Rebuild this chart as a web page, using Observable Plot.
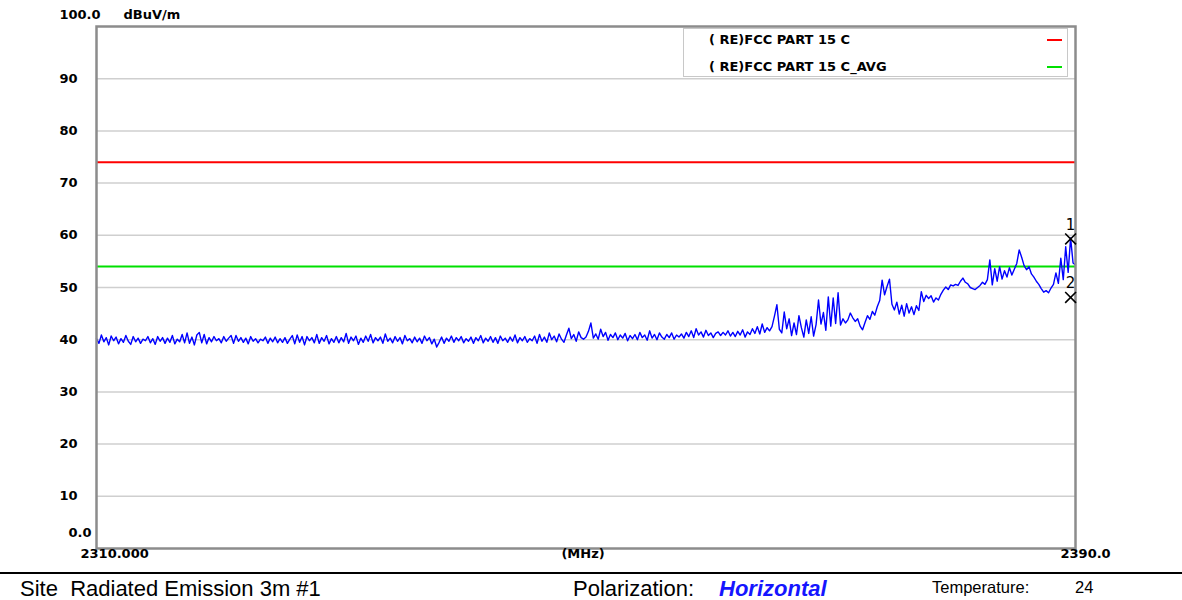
<!DOCTYPE html>
<html><head><meta charset="utf-8">
<script src="https://cdn.jsdelivr.net/npm/d3@7"></script>
<script src="https://cdn.jsdelivr.net/npm/@observablehq/plot@0.6"></script>
<style>
body{margin:0;background:#fff;}
#wrap{position:relative;width:1182px;height:600px;overflow:hidden;background:#fff;}
#chart{position:absolute;left:0;top:0;}
.legend{position:absolute;left:683px;top:28px;width:385px;height:49px;border:1px solid #c8c8c8;box-sizing:border-box;background:#fff;font:bold 13px "DejaVu Sans";color:#000;}
.legend .row{position:absolute;left:25px;height:16px;line-height:16px;}
.legend .dash{position:absolute;left:363px;width:15px;height:2px;}
.rule{position:absolute;left:0;top:572px;width:1182px;height:2px;background:#000;}
.ft{position:absolute;white-space:pre;font-family:"Liberation Sans",Arial,sans-serif;color:#000;}
</style>
</head><body>
<div id="wrap"><div id="chart"></div>
<div class="legend" id="legend"></div>
<div class="rule"></div>
<div id="footer"></div>
</div>
<script>
// ---- data ----
const startMHz = 2310, stopMHz = 2390, stepMHz = 0.2;
const traceLevels = [
40.2,39.3,40.9,39.6,40.4,39.0,40.7,39.8,40.5,39.2,40.2,39.5,40.8,39.7,39.1,40.6,39.6,40.3,39.3,40.1,
39.8,40.6,39.4,40.2,39.1,40.6,39.7,40.4,39.3,40.3,39.5,40.8,39.2,40.1,39.6,41.0,39.4,41.3,39.3,40.5,
39.0,40.9,41.4,39.4,41.0,39.2,40.4,39.6,40.6,39.8,40.2,39.4,40.6,39.7,40.3,40.8,39.3,40.8,39.7,40.4,
39.5,40.3,39.2,40.6,39.7,40.2,39.4,40.1,39.8,40.5,39.3,40.3,39.6,40.5,39.4,40.2,39.5,40.4,39.3,40.1,
40.8,39.2,40.9,39.5,40.6,39.0,40.6,39.8,40.4,39.4,41.0,39.3,40.4,39.7,40.8,39.2,40.2,39.5,40.6,39.4,
40.4,39.6,41.2,39.3,40.5,39.8,40.7,39.1,40.3,39.5,40.7,39.7,41.0,39.4,40.4,39.8,40.5,39.3,41.1,39.7,
40.3,39.4,40.6,39.7,40.4,39.2,40.8,39.8,40.2,39.4,40.5,39.6,40.3,39.3,40.7,39.8,40.4,39.2,40.1,38.6,
39.5,40.5,39.3,40.3,39.7,40.7,39.5,40.4,39.8,40.6,39.4,40.2,39.7,40.5,39.3,40.4,39.8,40.8,39.4,40.3,
39.7,40.6,39.5,40.4,39.3,40.7,39.8,40.3,39.5,40.5,39.7,40.9,39.4,40.4,39.8,40.6,39.5,40.2,39.8,40.7,
39.3,41.0,39.7,40.5,39.5,41.3,40.0,40.7,39.6,41.1,40.1,39.5,40.9,42.2,40.2,41.0,39.7,41.5,40.4,40.1,
40.5,41.6,43.2,40.3,41.1,40.1,42.0,40.6,41.4,39.9,41.0,40.4,41.3,40.0,40.9,40.3,41.2,39.8,40.8,40.2,
41.0,40.0,41.4,40.4,40.9,39.9,41.7,40.3,41.0,40.0,41.3,40.5,40.1,41.0,40.4,41.3,40.1,40.9,40.5,41.1,
40.3,41.4,40.6,41.7,40.4,42.1,40.9,41.5,40.5,41.8,40.8,41.3,40.4,41.2,41.5,40.8,41.4,40.9,41.7,40.7,
41.4,40.6,41.6,40.9,41.9,40.5,41.5,41.0,42.1,41.2,42.5,41.1,43.0,41.4,42.3,41.7,42.5,44.5,46.7,42.0,
41.3,45.3,42.1,44.0,40.8,43.2,41.0,44.6,42.3,40.5,43.8,41.2,44.4,40.7,42.9,47.6,43.0,45.2,41.8,48.2,
42.6,48.0,43.1,49.0,42.8,44.0,43.2,43.8,45.1,44.2,43.5,44.0,42.6,41.9,43.3,44.6,43.9,45.4,44.7,46.3,
47.5,51.4,48.6,50.2,51.6,46.8,45.7,47.2,44.9,46.6,44.5,46.9,45.1,46.3,44.8,46.5,45.6,49.2,47.3,48.5,
47.9,48.4,47.2,48.0,47.6,48.7,49.5,50.1,49.6,50.5,50.3,50.6,50.4,51.2,51.8,51.0,50.7,50.0,49.8,49.6,
50.0,50.4,51.0,50.6,51.5,55.3,50.5,53.6,51.2,54.0,51.6,53.2,52.0,53.8,52.4,53.5,54.6,57.2,55.8,54.2,
53.4,54.0,52.6,52.0,51.2,50.6,49.8,49.1,49.4,49.0,49.9,50.6,52.8,50.8,55.6,51.5,57.8,52.9,59.5,54.7,
54.3
];
const limitNames = ["( RE)FCC PART 15 C", "( RE)FCC PART 15 C_AVG"];
const limitValues = [74, 54];
const limitColors = ["#ff0000", "#00e000"];
const yTicks = [10, 20, 30, 40, 50, 60, 70, 80, 90];
const yTopLabel = "100.0", yUnit = "dBuV/m", yBottomLabel = "0.0";
const xStartLabel = "2310.000", xUnitLabel = "(MHz)", xEndLabel = "2390.0";
const markerFreqs = [2389.6, 2389.6];
const markerLevels = [59.3, 48.1];
const markerLabels = ["1", "2"];
const footerSite = "Site  Radiated Emission 3m #1";
const footerPolLabel = "Polarization:", footerPol = "Horizontal";
const footerTempLabel = "Temperature:", footerTemp = "24";

// ---- build ----
const trace = traceLevels.map((v, i) => ({f: startMHz + i * stepMHz, v}));
const markers = markerFreqs.map((f, i) => ({f, v: markerLevels[i], label: markerLabels[i]}));
const limits = limitValues.map((v, i) => ({v, color: limitColors[i]}));
const bold = {fontWeight: "bold", fontSize: 13, fontFamily: "DejaVu Sans", fill: "#000"};

const chart = Plot.plot({
  width: 1182, height: 572,
  marginLeft: 96, marginRight: 107, marginTop: 26, marginBottom: 24,
  x: {domain: [startMHz, stopMHz], axis: null},
  y: {domain: [0, 100], axis: null},
  style: {background: "transparent"},
  marks: [
    Plot.ruleY(yTicks, {stroke: "#cfcfcf", strokeWidth: 1.5}),
    Plot.ruleY(limits, {y: "v", stroke: d => d.color, strokeWidth: 2}),
    Plot.line(trace, {x: "f", y: "v", stroke: "#0000ff", strokeWidth: 1.4}),
    Plot.frame({stroke: "#8c8c8c", strokeWidth: 2.5}),
    Plot.text(yTicks, {y: d => d, text: d => String(d), frameAnchor: "left", textAnchor: "end", dx: -19, ...bold}),
    Plot.text([100], {y: d => d, text: () => yTopLabel, frameAnchor: "left", textAnchor: "end", dx: 4, dy: -12, ...bold}),
    Plot.text([100], {y: d => d, text: () => yUnit, frameAnchor: "left", textAnchor: "start", dx: 27, dy: -12, ...bold}),
    Plot.text([0], {y: d => d, text: () => yBottomLabel, frameAnchor: "left", textAnchor: "end", dx: -5, dy: -16, ...bold}),
    Plot.text([startMHz], {x: d => d, frameAnchor: "bottom", text: () => xStartLabel, textAnchor: "start", dx: -16, dy: 9, ...bold}),
    Plot.text([(startMHz + stopMHz) / 2], {x: d => d, frameAnchor: "bottom", text: () => xUnitLabel, textAnchor: "middle", dx: -3, dy: 9, ...bold}),
    Plot.text([stopMHz], {x: d => d, frameAnchor: "bottom", text: () => xEndLabel, textAnchor: "start", dx: -15, dy: 9, ...bold}),
    Plot.dot(markers, {x: "f", y: "v", symbol: "times", r: 5, stroke: "#000", strokeWidth: 1.6}),
    Plot.text(markers, {x: "f", y: "v", text: "label", dy: -14, fontSize: 15, fontFamily: "DejaVu Sans", fill: "#000"})
  ]
});
document.getElementById("chart").appendChild(chart);

// legend
const lg = document.getElementById("legend");
limitNames.forEach((name, i) => {
  const row = document.createElement("div");
  row.className = "row"; row.textContent = name;
  row.style.top = (3 + i * 27) + "px";
  lg.appendChild(row);
  const dash = document.createElement("div");
  dash.className = "dash"; dash.style.background = limitColors[i];
  dash.style.top = (10 + i * 27) + "px";
  lg.appendChild(dash);
});

// footer
const ft = document.getElementById("footer");
function addText(txt, left, top, size, extra) {
  const d = document.createElement("div");
  d.className = "ft"; d.textContent = txt;
  d.style.left = left + "px"; d.style.top = top + "px";
  d.style.fontSize = size + "px"; d.style.lineHeight = size + "px";
  Object.assign(d.style, extra || {});
  ft.appendChild(d);
}
addText(footerSite, 20, 578, 22);
addText(footerPolLabel, 573, 578, 22);
addText(footerPol, 719, 578, 22, {fontWeight: "bold", fontStyle: "italic", color: "#1515ff"});
addText(footerTempLabel, 932, 579, 16.5);
addText(footerTemp, 1075, 579, 16.5);
</script>
</body></html>
